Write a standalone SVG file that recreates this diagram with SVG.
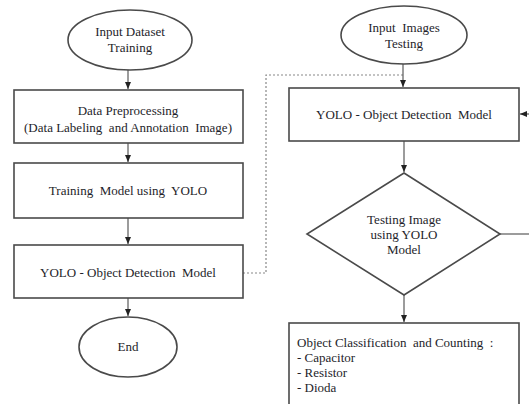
<svg xmlns="http://www.w3.org/2000/svg" width="529" height="404" viewBox="0 0 529 404">
<style>
.s{fill:#fff;stroke:#4a4a4a;stroke-width:1.6}
.t{font-size:13px;fill:#1e1e2a;text-anchor:middle}
.l{font-size:13px;fill:#1e1e2a}
.c{fill:none;stroke:#5a5a5a;stroke-width:1.2}
.d{fill:none;stroke:#888;stroke-width:1.2;stroke-dasharray:2 2}
</style>
<defs>
<marker id="a" markerWidth="8" markerHeight="8" refX="7" refY="4" orient="auto" markerUnits="userSpaceOnUse">
<path d="M0,1 L7,4 L0,7 Z" fill="#222"/>
</marker>
</defs>
<rect width="529" height="404" fill="#fff"/>
<g id="connectors">
<line class="c" x1="128" y1="70" x2="128" y2="89" marker-end="url(#a)"/>
<line class="c" x1="128" y1="143" x2="128" y2="162" marker-end="url(#a)"/>
<line class="c" x1="128" y1="218" x2="128" y2="244" marker-end="url(#a)"/>
<line class="c" x1="128" y1="298" x2="128" y2="316" marker-end="url(#a)"/>
<polyline class="d" points="243,273 266,273 266,75 403,75"/>
<line class="c" x1="403" y1="64" x2="403" y2="87" marker-end="url(#a)"/>
<line class="c" x1="404" y1="141" x2="404" y2="172" marker-end="url(#a)"/>
<line class="c" x1="404" y1="295" x2="404" y2="322" marker-end="url(#a)"/>
<line class="c" x1="500" y1="234" x2="529" y2="234"/>
<line class="c" x1="529" y1="114" x2="520" y2="114" marker-end="url(#a)"/>
</g>
<g font-family="Liberation Serif, Times New Roman, DejaVu Serif, serif">
<g id="n1"><ellipse class="s" cx="130" cy="40" rx="62" ry="30"/><text class="t" x="130" y="36">Input Dataset</text><text class="t" x="130" y="52">Training</text></g>
<g id="n2"><rect class="s" x="14" y="90" width="229" height="53"/><text class="t" x="128" y="115">Data Preprocessing</text><text class="t" x="128" y="132" xml:space="preserve">(Data Labeling  and Annotation  Image)</text></g>
<g id="n3"><rect class="s" x="14" y="163" width="229" height="55"/><text class="t" x="128" y="195" xml:space="preserve">Training  Model using  YOLO</text></g>
<g id="n4"><rect class="s" x="14" y="245" width="229" height="53"/><text class="t" x="128" y="277" xml:space="preserve">YOLO - Object Detection  Model</text></g>
<g id="n5"><ellipse class="s" cx="128" cy="347" rx="49" ry="30"/><text class="t" x="128" y="351">End</text></g>
<g id="n6"><ellipse class="s" cx="404" cy="35" rx="63" ry="29"/><text class="t" x="404" y="32" xml:space="preserve">Input  Images</text><text class="t" x="404" y="48">Testing</text></g>
<g id="n7"><rect class="s" x="289" y="88" width="230" height="53"/><text class="t" x="404" y="119" xml:space="preserve">YOLO - Object Detection  Model</text></g>
<g id="n8"><polygon class="s" points="404,173 500,234 404,295 307,234"/><text class="t" x="404" y="224">Testing Image</text><text class="t" x="404" y="239">using YOLO</text><text class="t" x="404" y="254">Model</text></g>
<g id="n9"><rect class="s" x="289" y="323" width="230" height="90"/><text class="l" x="297" y="347" xml:space="preserve">Object Classification  and Counting  :</text><text class="l" x="297" y="362">- Capacitor</text><text class="l" x="297" y="377">- Resistor</text><text class="l" x="297" y="392">- Dioda</text></g>
</g>
</svg>
